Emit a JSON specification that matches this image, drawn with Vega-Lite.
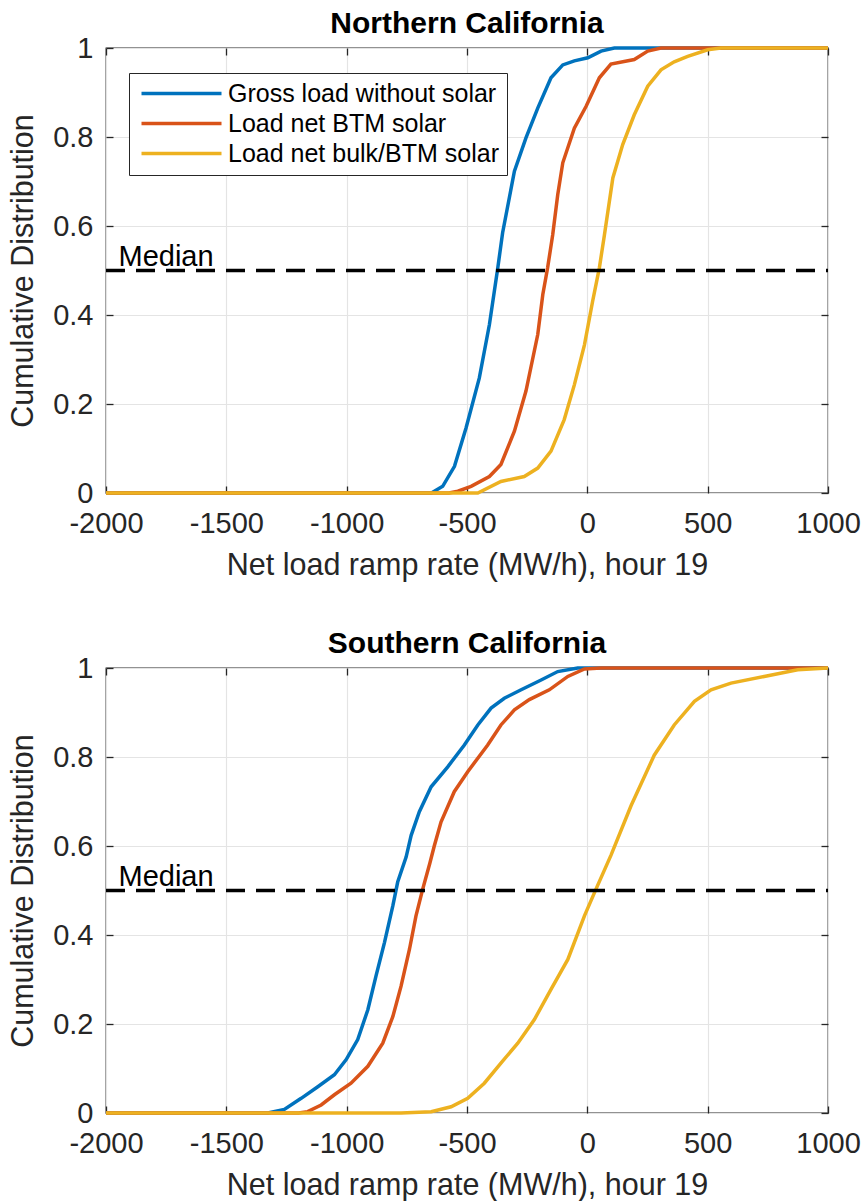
{
  "$schema": "https://vega.github.io/schema/vega-lite/v6.json",
  "padding": {"left": 8, "top": 8, "right": 5, "bottom": 0},
  "background": "white",
  "datasets": {
    "north": [
      {"s": "Gross load without solar", "x": -2000, "y": 0},
      {"s": "Gross load without solar", "x": -648, "y": 0},
      {"s": "Gross load without solar", "x": -601, "y": 0.015},
      {"s": "Gross load without solar", "x": -552, "y": 0.06},
      {"s": "Gross load without solar", "x": -504, "y": 0.146},
      {"s": "Gross load without solar", "x": -449, "y": 0.258},
      {"s": "Gross load without solar", "x": -407, "y": 0.378},
      {"s": "Gross load without solar", "x": -372, "y": 0.506},
      {"s": "Gross load without solar", "x": -352, "y": 0.585},
      {"s": "Gross load without solar", "x": -303, "y": 0.723},
      {"s": "Gross load without solar", "x": -255, "y": 0.798},
      {"s": "Gross load without solar", "x": -206, "y": 0.865},
      {"s": "Gross load without solar", "x": -151, "y": 0.933},
      {"s": "Gross load without solar", "x": -102, "y": 0.962},
      {"s": "Gross load without solar", "x": -54, "y": 0.971},
      {"s": "Gross load without solar", "x": 2, "y": 0.978},
      {"s": "Gross load without solar", "x": 57, "y": 0.993},
      {"s": "Gross load without solar", "x": 112, "y": 1.0},
      {"s": "Gross load without solar", "x": 1000, "y": 1.0},
      {"s": "Load net BTM solar", "x": -2000, "y": 0},
      {"s": "Load net BTM solar", "x": -575, "y": 0},
      {"s": "Load net BTM solar", "x": -538, "y": 0.004},
      {"s": "Load net BTM solar", "x": -483, "y": 0.015},
      {"s": "Load net BTM solar", "x": -407, "y": 0.037},
      {"s": "Load net BTM solar", "x": -359, "y": 0.064},
      {"s": "Load net BTM solar", "x": -303, "y": 0.139},
      {"s": "Load net BTM solar", "x": -255, "y": 0.229},
      {"s": "Load net BTM solar", "x": -206, "y": 0.356},
      {"s": "Load net BTM solar", "x": -185, "y": 0.446},
      {"s": "Load net BTM solar", "x": -165, "y": 0.506},
      {"s": "Load net BTM solar", "x": -144, "y": 0.58},
      {"s": "Load net BTM solar", "x": -123, "y": 0.67},
      {"s": "Load net BTM solar", "x": -102, "y": 0.742},
      {"s": "Load net BTM solar", "x": -54, "y": 0.82},
      {"s": "Load net BTM solar", "x": -5, "y": 0.869},
      {"s": "Load net BTM solar", "x": 50, "y": 0.933},
      {"s": "Load net BTM solar", "x": 98, "y": 0.964},
      {"s": "Load net BTM solar", "x": 195, "y": 0.974},
      {"s": "Load net BTM solar", "x": 251, "y": 0.993},
      {"s": "Load net BTM solar", "x": 306, "y": 1.0},
      {"s": "Load net BTM solar", "x": 1000, "y": 1.0},
      {"s": "Load net bulk/BTM solar", "x": -2000, "y": 0},
      {"s": "Load net bulk/BTM solar", "x": -455, "y": 0},
      {"s": "Load net bulk/BTM solar", "x": -359, "y": 0.026},
      {"s": "Load net bulk/BTM solar", "x": -262, "y": 0.037},
      {"s": "Load net bulk/BTM solar", "x": -206, "y": 0.056},
      {"s": "Load net bulk/BTM solar", "x": -151, "y": 0.094},
      {"s": "Load net bulk/BTM solar", "x": -96, "y": 0.165},
      {"s": "Load net bulk/BTM solar", "x": -54, "y": 0.243},
      {"s": "Load net bulk/BTM solar", "x": -12, "y": 0.333},
      {"s": "Load net bulk/BTM solar", "x": 22, "y": 0.431},
      {"s": "Load net bulk/BTM solar", "x": 50, "y": 0.506},
      {"s": "Load net bulk/BTM solar", "x": 71, "y": 0.58},
      {"s": "Load net bulk/BTM solar", "x": 106, "y": 0.708},
      {"s": "Load net bulk/BTM solar", "x": 147, "y": 0.783},
      {"s": "Load net bulk/BTM solar", "x": 195, "y": 0.85},
      {"s": "Load net bulk/BTM solar", "x": 251, "y": 0.914},
      {"s": "Load net bulk/BTM solar", "x": 306, "y": 0.951},
      {"s": "Load net bulk/BTM solar", "x": 361, "y": 0.969},
      {"s": "Load net bulk/BTM solar", "x": 417, "y": 0.981},
      {"s": "Load net bulk/BTM solar", "x": 500, "y": 0.996},
      {"s": "Load net bulk/BTM solar", "x": 555, "y": 1.0},
      {"s": "Load net bulk/BTM solar", "x": 1000, "y": 1.0}
    ],
    "south": [
      {"s": "Gross load without solar", "x": -2000, "y": 0},
      {"s": "Gross load without solar", "x": -1328, "y": 0},
      {"s": "Gross load without solar", "x": -1259, "y": 0.008},
      {"s": "Gross load without solar", "x": -1189, "y": 0.033},
      {"s": "Gross load without solar", "x": -1120, "y": 0.059},
      {"s": "Gross load without solar", "x": -1051, "y": 0.086},
      {"s": "Gross load without solar", "x": -1002, "y": 0.12},
      {"s": "Gross load without solar", "x": -954, "y": 0.165},
      {"s": "Gross load without solar", "x": -912, "y": 0.232},
      {"s": "Gross load without solar", "x": -878, "y": 0.308},
      {"s": "Gross load without solar", "x": -843, "y": 0.383},
      {"s": "Gross load without solar", "x": -808, "y": 0.466},
      {"s": "Gross load without solar", "x": -788, "y": 0.519},
      {"s": "Gross load without solar", "x": -753, "y": 0.575},
      {"s": "Gross load without solar", "x": -732, "y": 0.624},
      {"s": "Gross load without solar", "x": -698, "y": 0.677},
      {"s": "Gross load without solar", "x": -649, "y": 0.733},
      {"s": "Gross load without solar", "x": -580, "y": 0.778},
      {"s": "Gross load without solar", "x": -511, "y": 0.827},
      {"s": "Gross load without solar", "x": -455, "y": 0.872},
      {"s": "Gross load without solar", "x": -400, "y": 0.91},
      {"s": "Gross load without solar", "x": -345, "y": 0.932},
      {"s": "Gross load without solar", "x": -275, "y": 0.951},
      {"s": "Gross load without solar", "x": -192, "y": 0.973},
      {"s": "Gross load without solar", "x": -123, "y": 0.992},
      {"s": "Gross load without solar", "x": -40, "y": 1.0},
      {"s": "Gross load without solar", "x": 1000, "y": 1.0},
      {"s": "Load net BTM solar", "x": -2000, "y": 0},
      {"s": "Load net BTM solar", "x": -1200, "y": 0},
      {"s": "Load net BTM solar", "x": -1162, "y": 0.003},
      {"s": "Load net BTM solar", "x": -1106, "y": 0.018},
      {"s": "Load net BTM solar", "x": -1051, "y": 0.041},
      {"s": "Load net BTM solar", "x": -982, "y": 0.067},
      {"s": "Load net BTM solar", "x": -912, "y": 0.105},
      {"s": "Load net BTM solar", "x": -850, "y": 0.157},
      {"s": "Load net BTM solar", "x": -808, "y": 0.217},
      {"s": "Load net BTM solar", "x": -774, "y": 0.285},
      {"s": "Load net BTM solar", "x": -739, "y": 0.368},
      {"s": "Load net BTM solar", "x": -712, "y": 0.443},
      {"s": "Load net BTM solar", "x": -684, "y": 0.503},
      {"s": "Load net BTM solar", "x": -655, "y": 0.56},
      {"s": "Load net BTM solar", "x": -636, "y": 0.6},
      {"s": "Load net BTM solar", "x": -608, "y": 0.654},
      {"s": "Load net BTM solar", "x": -553, "y": 0.722},
      {"s": "Load net BTM solar", "x": -497, "y": 0.767},
      {"s": "Load net BTM solar", "x": -414, "y": 0.827},
      {"s": "Load net BTM solar", "x": -359, "y": 0.872},
      {"s": "Load net BTM solar", "x": -303, "y": 0.906},
      {"s": "Load net BTM solar", "x": -241, "y": 0.929},
      {"s": "Load net BTM solar", "x": -158, "y": 0.951},
      {"s": "Load net BTM solar", "x": -81, "y": 0.981},
      {"s": "Load net BTM solar", "x": -12, "y": 0.998},
      {"s": "Load net BTM solar", "x": 57, "y": 1.0},
      {"s": "Load net BTM solar", "x": 1000, "y": 1.0},
      {"s": "Load net bulk/BTM solar", "x": -2000, "y": 0},
      {"s": "Load net bulk/BTM solar", "x": -774, "y": 0},
      {"s": "Load net bulk/BTM solar", "x": -649, "y": 0.003},
      {"s": "Load net bulk/BTM solar", "x": -566, "y": 0.014},
      {"s": "Load net bulk/BTM solar", "x": -497, "y": 0.033},
      {"s": "Load net bulk/BTM solar", "x": -428, "y": 0.067},
      {"s": "Load net bulk/BTM solar", "x": -359, "y": 0.112},
      {"s": "Load net bulk/BTM solar", "x": -289, "y": 0.157},
      {"s": "Load net bulk/BTM solar", "x": -220, "y": 0.21},
      {"s": "Load net bulk/BTM solar", "x": -151, "y": 0.278},
      {"s": "Load net bulk/BTM solar", "x": -81, "y": 0.345},
      {"s": "Load net bulk/BTM solar", "x": -12, "y": 0.443},
      {"s": "Load net bulk/BTM solar", "x": 36, "y": 0.503},
      {"s": "Load net bulk/BTM solar", "x": 98, "y": 0.579},
      {"s": "Load net bulk/BTM solar", "x": 182, "y": 0.691},
      {"s": "Load net bulk/BTM solar", "x": 278, "y": 0.804},
      {"s": "Load net bulk/BTM solar", "x": 361, "y": 0.872},
      {"s": "Load net bulk/BTM solar", "x": 445, "y": 0.925},
      {"s": "Load net bulk/BTM solar", "x": 514, "y": 0.951},
      {"s": "Load net bulk/BTM solar", "x": 597, "y": 0.966},
      {"s": "Load net bulk/BTM solar", "x": 735, "y": 0.981},
      {"s": "Load net bulk/BTM solar", "x": 874, "y": 0.996},
      {"s": "Load net bulk/BTM solar", "x": 1000, "y": 1.0}
    ],
    "median": [{"x0": -2000, "x1": 1000, "y": 0.5}],
    "mlabel": [{"x": -1948, "y": 0.5, "label": "Median"}]
  },
  "vconcat": [
    {
      "title": "Northern California",
      "width": 722,
      "height": 445,
      "resolve": {"axis": {"x": "independent", "y": "independent"}},
      "layer": [
        {
          "data": {"name": "north"},
          "mark": {"type": "line", "strokeWidth": 3.5},
          "encoding": {
            "x": {"field": "x", "type": "quantitative", "scale": {"domain": [-2000, 1000], "nice": false, "zero": false},
                  "axis": {"orient": "bottom", "values": [-2000, -1500, -1000, -500, 0, 500, 1000], "labelExpr": "'' + datum.value", "title": "Net load ramp rate (MW/h), hour 19", "grid": true}},
            "y": {"field": "y", "type": "quantitative", "scale": {"domain": [0, 1], "nice": false},
                  "axis": {"orient": "left", "values": [0, 0.2, 0.4, 0.6, 0.8, 1], "format": "~g", "title": "Cumulative Distribution", "grid": true}},
            "color": {"field": "s", "type": "nominal",
                      "scale": {"domain": ["Gross load without solar", "Load net BTM solar", "Load net bulk/BTM solar"], "range": ["#0072BD", "#D95319", "#EDB120"]},
                      "legend": {"orient": "none", "legendX": 23, "legendY": 25, "title": null, "symbolType": "M-4,0H4", "symbolSize": 400, "symbolStrokeWidth": 3.5, "symbolOffset": 32, "labelOffset": 34, "labelFontSize": 25, "labelColor": "#000000", "labelLimit": 400, "strokeColor": "#262626", "fillColor": "#ffffff", "padding": 8, "rowPadding": 4}}
          }
        },
        {
          "data": {"name": "median"},
          "mark": {"type": "rule", "strokeWidth": 3.5, "strokeDash": [19, 11], "color": "#000000"},
          "encoding": {
            "x": {"field": "x0", "type": "quantitative", "axis": {"orient": "top", "values": [-2000, -1500, -1000, -500, 0, 500, 1000], "labels": false, "title": null, "grid": false}},
            "x2": {"field": "x1"},
            "y": {"field": "y", "type": "quantitative", "axis": {"orient": "right", "values": [0, 0.2, 0.4, 0.6, 0.8, 1], "labels": false, "title": null, "grid": false}}
          }
        },
        {
          "data": {"name": "mlabel"},
          "mark": {"type": "text", "align": "left", "baseline": "alphabetic", "dy": -5, "fontSize": 29, "color": "#000000"},
          "encoding": {
            "x": {"field": "x", "type": "quantitative", "axis": null},
            "y": {"field": "y", "type": "quantitative", "axis": null},
            "text": {"field": "label"}
          }
        }
      ]
    },
    {
      "title": "Southern California",
      "width": 722,
      "height": 445,
      "resolve": {"axis": {"x": "independent", "y": "independent"}},
      "layer": [
        {
          "data": {"name": "south"},
          "mark": {"type": "line", "strokeWidth": 3.5},
          "encoding": {
            "x": {"field": "x", "type": "quantitative", "scale": {"domain": [-2000, 1000], "nice": false, "zero": false},
                  "axis": {"orient": "bottom", "values": [-2000, -1500, -1000, -500, 0, 500, 1000], "labelExpr": "'' + datum.value", "title": "Net load ramp rate (MW/h), hour 19", "grid": true}},
            "y": {"field": "y", "type": "quantitative", "scale": {"domain": [0, 1], "nice": false},
                  "axis": {"orient": "left", "values": [0, 0.2, 0.4, 0.6, 0.8, 1], "format": "~g", "title": "Cumulative Distribution", "grid": true}},
            "color": {"field": "s", "type": "nominal",
                      "scale": {"domain": ["Gross load without solar", "Load net BTM solar", "Load net bulk/BTM solar"], "range": ["#0072BD", "#D95319", "#EDB120"]},
                      "legend": null}
          }
        },
        {
          "data": {"name": "median"},
          "mark": {"type": "rule", "strokeWidth": 3.5, "strokeDash": [19, 11], "color": "#000000"},
          "encoding": {
            "x": {"field": "x0", "type": "quantitative", "axis": {"orient": "top", "values": [-2000, -1500, -1000, -500, 0, 500, 1000], "labels": false, "title": null, "grid": false}},
            "x2": {"field": "x1"},
            "y": {"field": "y", "type": "quantitative", "axis": {"orient": "right", "values": [0, 0.2, 0.4, 0.6, 0.8, 1], "labels": false, "title": null, "grid": false}}
          }
        },
        {
          "data": {"name": "mlabel"},
          "mark": {"type": "text", "align": "left", "baseline": "alphabetic", "dy": -5, "fontSize": 29, "color": "#000000"},
          "encoding": {
            "x": {"field": "x", "type": "quantitative", "axis": null},
            "y": {"field": "y", "type": "quantitative", "axis": null},
            "text": {"field": "label"}
          }
        }
      ]
    }
  ],
  "spacing": 46,
  "resolve": {"scale": {"x": "independent", "y": "independent", "color": "independent"}, "legend": {"color": "independent"}},
  "config": {
    "font": "Liberation Sans",
    "view": {"stroke": "#262626", "strokeWidth": 1.3},
    "axis": {
      "labelFont": "Liberation Sans", "labelFontSize": 29, "labelColor": "#262626", "labelPadding": 23, "labelFlush": false, "labelOverlap": false,
      "titleFont": "Liberation Sans", "titleFontSize": 30.5, "titleFontWeight": "normal", "titleColor": "#262626", "titlePadding": 12,
      "gridColor": "#e4e4e4", "gridWidth": 1.2, "tickColor": "#262626", "tickSize": -7, "tickWidth": 1.3, "domain": false
    },
    "axisY": {"labelPadding": 20, "titlePadding": 14},
    "title": {"font": "Liberation Sans", "fontSize": 30, "fontWeight": "bold", "color": "#000000", "anchor": "middle", "frame": "group", "offset": -5},
    "legend": {"labelFont": "Liberation Sans"}
  }
}
